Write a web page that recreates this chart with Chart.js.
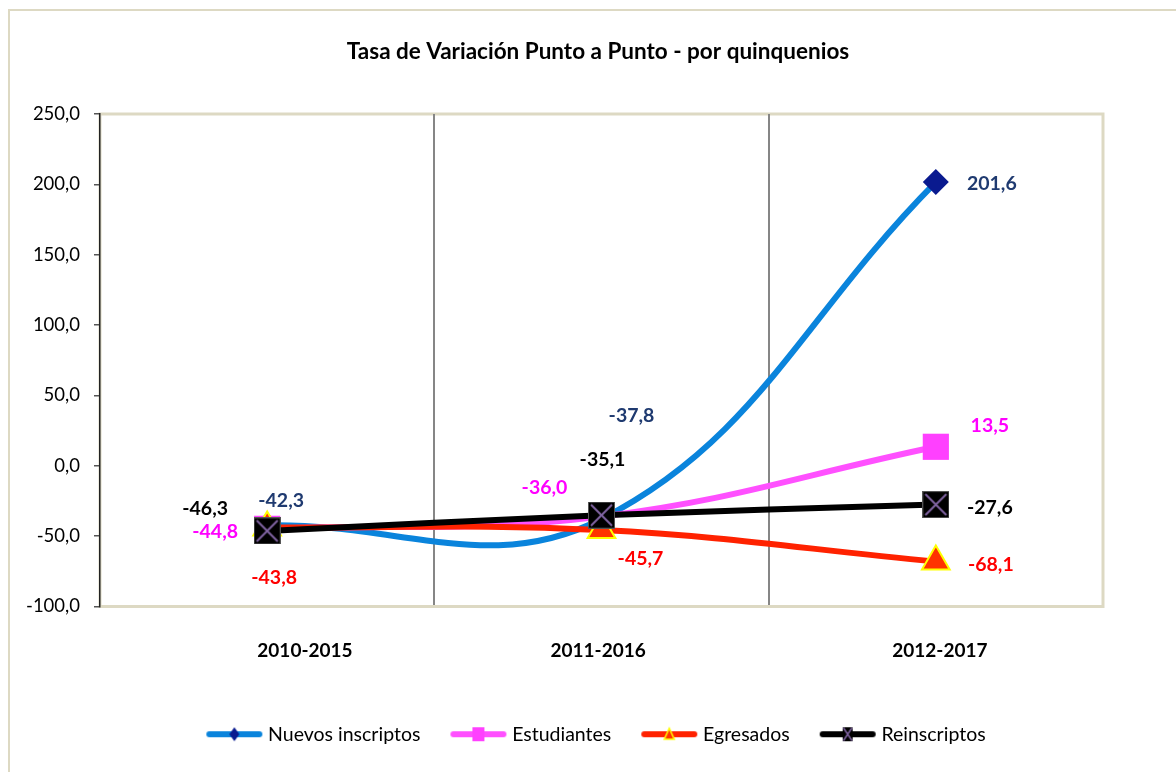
<!DOCTYPE html>
<html><head><meta charset="utf-8">
<script src="https://cdn.jsdelivr.net/npm/chart.js@4"></script>
<style>html,body{margin:0;padding:0;background:#fff}#c{display:block}</style>
</head><body>
<canvas id="c" width="1176" height="772"></canvas>
<script>
// ---- data ----
const categories = ['2010-2015', '2011-2016', '2012-2017'];
const nuevosInscriptos = [-42.3, -37.8, 201.6];
const estudiantes = [-44.8, -36.0, 13.5];
const egresados = [-43.8, -45.7, -68.1];
const reinscriptos = [-46.3, -35.1, -27.6];
const seriesNames = ['Nuevos inscriptos', 'Estudiantes', 'Egresados', 'Reinscriptos'];
const yTicks = [-100, -50, 0, 50, 100, 150, 200, 250];
const titleText = 'Tasa de Variación Punto a Punto - por quinquenios';

// ---- styles ----
const FONT = 'Lato, "Open Sans", sans-serif';
const lineColors = ['#0a84dc', '#ff50ff', '#ff2200', '#000000'];
const labelColors = ['#1f3a70', '#ff00ff', '#ff0000', '#000000'];
const BEIGE = '#ddd9c3';
const PURPLE = '#8064a2';
// label offsets (pixels) relative to each point, per series
const labelOffsets = [
  [[14, -25], [30, -103], [56, 2]],
  [[-52, 3], [-57, -29], [54, -21]],
  [[7, 50], [39, 29], [55, 3]],
  [[-62, -22], [1, -55], [54, 3]]
];
const labelPos = [0.613, 1.49, 2.512];

function makeCanvas(w, h, draw) {
  const c = document.createElement('canvas');
  c.width = w; c.height = h;
  draw(c.getContext('2d'), w, h);
  return c;
}
const reinsMarker = makeCanvas(27, 27, (g, w, h) => {
  g.fillStyle = '#000'; g.fillRect(0, 0, w, h);
  g.strokeStyle = '#555'; g.lineWidth = 1; g.strokeRect(0.5, 0.5, w - 1, h - 1);
  g.strokeStyle = PURPLE; g.lineWidth = 2;
  g.beginPath(); g.moveTo(3, 3); g.lineTo(w - 3, h - 3); g.moveTo(w - 3, 3); g.lineTo(3, h - 3); g.stroke();
});
function legendIcon(i) {
  return makeCanvas(58, 18, (g, w, h) => {
    const cy = h / 2, cx = w / 2;
    g.strokeStyle = lineColors[i]; g.lineWidth = 6; g.lineCap = 'round';
    g.beginPath(); g.moveTo(4, cy); g.lineTo(w - 4, cy); g.stroke();
    if (i === 0) {
      g.fillStyle = '#0a1a8f';
      g.beginPath(); g.moveTo(cx, cy - 7); g.lineTo(cx + 5, cy); g.lineTo(cx, cy + 7); g.lineTo(cx - 5, cy); g.closePath(); g.fill();
    } else if (i === 1) {
      g.fillStyle = '#ff40ff'; g.fillRect(cx - 6, cy - 7, 12, 14);
    } else if (i === 2) {
      g.fillStyle = '#ff3300'; g.strokeStyle = '#ffff00'; g.lineWidth = 1.5;
      g.beginPath(); g.moveTo(cx, cy - 6); g.lineTo(cx + 5, cy + 5); g.lineTo(cx - 5, cy + 5); g.closePath(); g.fill(); g.stroke();
    } else {
      g.fillStyle = '#000'; g.fillRect(cx - 5, cy - 7, 10, 14);
      g.strokeStyle = PURPLE; g.lineWidth = 1.5;
      g.beginPath(); g.moveTo(cx - 4, cy - 6); g.lineTo(cx + 4, cy + 6); g.moveTo(cx + 4, cy - 6); g.lineTo(cx - 4, cy + 6); g.stroke();
    }
  });
}
const legendIcons = [0, 1, 2, 3].map(legendIcon);

const fmt = v => v.toFixed(1).replace('.', ',');

const framePlugin = {
  id: 'frame',
  beforeDraw(chart) {
    const { ctx, chartArea: a } = chart;
    ctx.save();
    ctx.fillStyle = '#fff'; ctx.fillRect(0, 0, chart.width, chart.height);
    ctx.strokeStyle = BEIGE; ctx.lineWidth = 2;
    ctx.beginPath(); ctx.moveTo(9, chart.height); ctx.lineTo(9, 10); ctx.lineTo(chart.width, 10); ctx.stroke();
    ctx.lineWidth = 3;
    ctx.strokeRect(a.left, a.top, a.right - a.left, a.bottom - a.top);
    ctx.restore();
  }
};
const valueLabels = {
  id: 'valueLabels',
  afterDatasetsDraw(chart) {
    const { ctx } = chart;
    ctx.save();
    ctx.font = 'bold 19.5px ' + FONT;
    ctx.textAlign = 'center'; ctx.textBaseline = 'middle';
    chart.data.datasets.forEach((ds, i) => {
      const meta = chart.getDatasetMeta(i);
      meta.data.forEach((pt, j) => {
        const o = labelOffsets[i][j];
        ctx.fillStyle = labelColors[i];
        ctx.fillText(fmt(ds.data[j]), pt.x + o[0], pt.y + o[1]);
      });
    });
    ctx.restore();
  }
};

const seriesData = [nuevosInscriptos, estudiantes, egresados, reinscriptos];
const pointStyles = ['rectRot', 'rect', 'triangle', reinsMarker];
const pointRadii = [13, 18.5, 16, 13];
const pointFills = ['#0a1a8f', '#ff40ff', '#ff3300', '#000'];
const pointBorders = ['#0a1a8f', '#ff40ff', '#ffff00', '#000'];
const pointBorderW = [0, 0, 2, 0];

const datasets = seriesData.map((d, i) => ({
  label: seriesNames[i],
  data: d,
  xAxisID: 'x', yAxisID: 'y',
  borderColor: lineColors[i],
  borderWidth: 6,
  tension: 0.4,
  fill: false,
  order: 4 - i,
  pointStyle: pointStyles[i],
  pointRadius: pointRadii[i],
  pointBackgroundColor: pointFills[i],
  pointBorderColor: pointBorders[i],
  pointBorderWidth: pointBorderW[i],
  clip: false
}));

new Chart(document.getElementById('c'), {
  type: 'line',
  data: { labels: categories, datasets },
  options: {
    responsive: false,
    animation: false,
    events: [],
    layout: { padding: { left: 20, right: 0, top: 0, bottom: 18 } },
    plugins: {
      title: {
        display: true, text: titleText, color: '#000',
        font: { family: FONT, size: 22.5, weight: 'bold' },
        padding: { top: 38, bottom: 49 }
      },
      legend: {
        position: 'bottom',
        labels: {
          usePointStyle: true, pointStyleWidth: 48, padding: 34,
          color: '#000', font: { family: FONT, size: 19.5 },
          generateLabels: (chart) => chart.data.datasets.map((ds, i) => ({
            text: ds.label, pointStyle: legendIcons[i], fillStyle: 'transparent',
            strokeStyle: 'transparent', lineWidth: 0, hidden: false, datasetIndex: i, fontColor: '#000'
          }))
        }
      },
      tooltip: { enabled: false }
    },
    scales: {
      x: {
        type: 'category', offset: true, position: 'bottom',
        ticks: { display: false },
        grid: {
          offset: true, drawTicks: false, lineWidth: 2,
          color: (c) => (c.type === 'tick' && c.index > 0 && c.index < categories.length) ? '#868686' : 'rgba(0,0,0,0)'
        },
        border: { display: true, color: BEIGE, width: 3 }
      },
      xl: {
        type: 'linear', position: 'bottom', min: 0, max: categories.length,
        grid: { display: false, drawTicks: false },
        border: { display: false },
        afterBuildTicks: (s) => { s.ticks = labelPos.map(v => ({ value: v })); },
        afterFit: (s) => { s.height = 84; },
        ticks: {
          autoSkip: false, maxRotation: 0, padding: 33, color: '#000',
          font: { family: FONT, size: 19, weight: 'bold' },
          callback: (v, i) => categories[i]
        }
      },
      y: {
        type: 'linear', position: 'left',
        min: yTicks[0], max: yTicks[yTicks.length - 1],
        afterBuildTicks: (s) => { s.ticks = yTicks.map(v => ({ value: v })); },
        afterFit: (s) => { s.width = 80; },
        grid: { drawOnChartArea: false, drawTicks: true, tickLength: 6, color: '#555', lineWidth: 1.5 },
        border: { display: true, color: '#222', width: 1.5 },
        ticks: {
          padding: 14, color: '#000', font: { family: FONT, size: 18.5 },
          callback: (v) => fmt(v)
        }
      },
      yr: {
        type: 'linear', position: 'right', display: true,
        grid: { display: false, drawTicks: false },
        border: { display: false },
        ticks: { display: false },
        afterFit: (s) => { s.width = 73; }
      }
    }
  },
  plugins: [framePlugin, valueLabels]
});
</script>
</body></html>
